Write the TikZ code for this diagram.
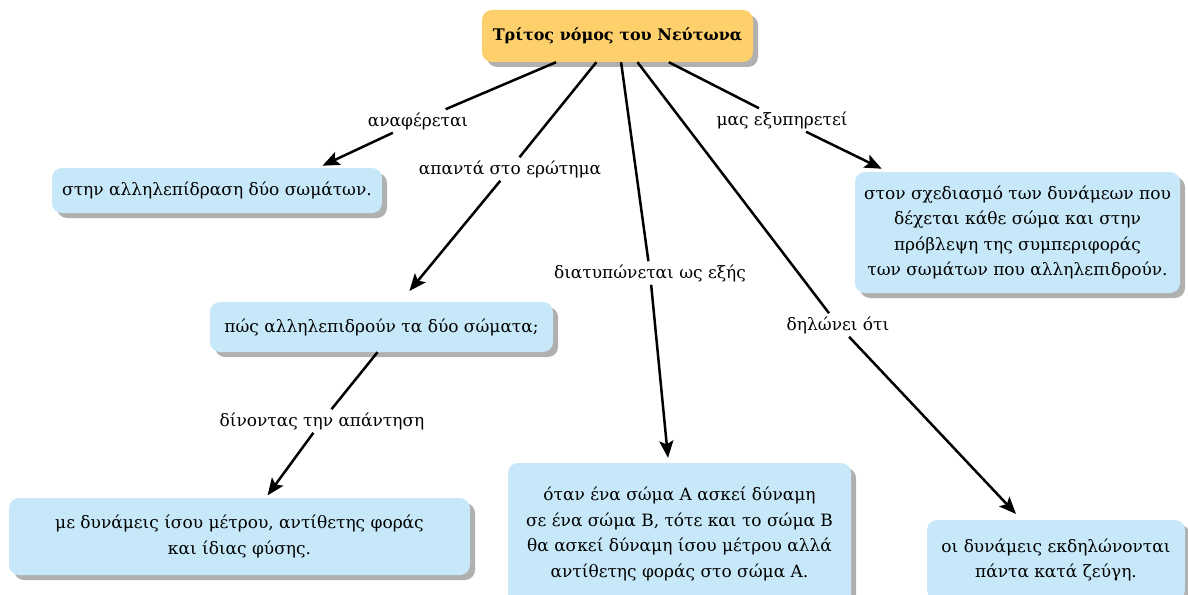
\documentclass[tikz,border=0pt]{standalone}
\usepackage{fontspec}
\setmainfont{DejaVu Serif}
\usetikzlibrary{arrows.meta,shadows}
\definecolor{boxblue}{HTML}{C7E8F8}
\definecolor{titleyellow}{HTML}{FDD06B}
\definecolor{shadowgray}{HTML}{B0B0B0}
\begin{document}
\begin{tikzpicture}[x=1pt,y=-1pt,
  box/.style={draw=none, fill=boxblue, rounded corners=10pt, align=center, inner sep=0pt,
    drop shadow={shadow xshift=5pt, shadow yshift=-5pt, fill=shadowgray, opacity=1},
    font=\fontsize{17}{25.5}\selectfont},
  titlebox/.style={box, fill=titleyellow, font=\bfseries\fontsize{16}{20}\selectfont},
  lab/.style={inner sep=3pt, font=\fontsize{17}{20}\selectfont},
  conn/.style={line width=2.5pt},
  arr/.style={conn, -{Stealth[length=17pt,width=14pt,inset=3.5pt]}}]
\useasboundingbox (0,0) rectangle (1188,594);
% boxes
\node[titlebox, minimum width=271pt, minimum height=52pt] (title) at (617.5,36) {Τρίτος νόμος του Νεύτωνα};
\node[box, minimum width=330pt, minimum height=45pt] (b1) at (217,190.5) {στην αλληλεπίδραση δύο σωμάτων.};
\node[box, minimum width=343pt, minimum height=50pt] (b2) at (381.5,327) {πώς αλληλεπιδρούν τα δύο σώματα;};
\node[box, minimum width=461pt, minimum height=77pt] (b3) at (239.5,536.5) {με δυνάμεις ίσου μέτρου, αντίθετης φοράς\\και ίδιας φύσης.};
\node[box, minimum width=343pt, minimum height=142pt] (b4) at (679.5,534) {όταν ένα σώμα Α ασκεί δύναμη\\σε ένα σώμα Β, τότε και το σώμα Β\\θα ασκεί δύναμη ίσου μέτρου αλλά\\αντίθετης φοράς στο σώμα Α.};
\node[box, minimum width=325pt, minimum height=121pt] (b5) at (1017.5,232.5) {στον σχεδιασμό των δυνάμεων που\\δέχεται κάθε σώμα και στην\\πρόβλεψη της συμπεριφοράς\\των σωμάτων που αλληλεπιδρούν.};
\node[box, minimum width=258pt, minimum height=80pt] (b6) at (1056,560) {οι δυνάμεις εκδηλώνονται\\πάντα κατά ζεύγη.};
% labels
\node[lab] (l1) at (418,121) {αναφέρεται};
\node[lab] (l2) at (510,169) {απαντά στο ερώτημα};
\node[lab] (l3) at (650,273) {διατυπώνεται ως εξής};
\node[lab] (l4) at (782,120) {μας εξυπηρετεί};
\node[lab] (l5) at (838,325) {δηλώνει ότι};
\node[lab] (l6) at (322,421) {δίνοντας την απάντηση};
% connectors
\draw[conn] (title) -- (l1);
\draw[arr, shorten >=5pt] (l1) -- ([xshift=101pt]b1.north);
\draw[conn] (title) -- (l2);
\draw[arr, shorten >=14pt] (l2) -- ([xshift=19pt]b2.north);
\draw[conn] (title) -- (l3);
\draw[arr, shorten >=5pt] (l3) -- ([xshift=-11pt]b4.north);
\draw[conn] (title) -- (l4);
\draw[arr, shorten >=7pt] (l4) -- ([xshift=-129.5pt]b5.north);
\draw[conn] (title) -- (l5);
\draw[arr, shorten >=8pt] (l5) -- ([xshift=-34.5pt]b6.north);
\draw[conn] ([xshift=-4pt]b2.south) -- (l6);
\draw[arr, shorten >=3pt] (l6) -- ([xshift=26.3pt]b3.north);
\end{tikzpicture}
\end{document}
